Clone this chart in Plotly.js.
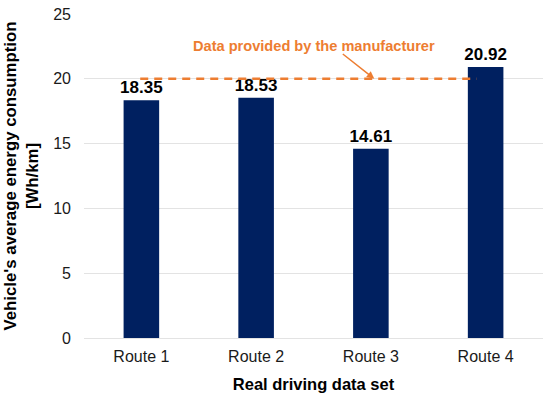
<!DOCTYPE html>
<html>
<head>
<meta charset="utf-8">
<script src="https://cdn.plot.ly/plotly-3.0.1.min.js"></script>
<style>html,body{margin:0;padding:0;background:#fff;}#chart{width:550px;height:405px;}</style>
</head>
<body>
<div id="chart"></div>
<script>
const categories = ["Route 1", "Route 2", "Route 3", "Route 4"];
const consumption = [18.35, 18.53, 14.61, 20.92];
const valueLabels = ["18.35", "18.53", "14.61", "20.92"];
const manufacturerValue = 20;
const manufacturerLabel = "Data provided by the manufacturer";
const yTicks = [0, 5, 10, 15, 20, 25];

const font = "Liberation Sans, Arial, sans-serif";

const trace = {
  type: "bar",
  x: categories,
  y: consumption,
  text: valueLabels,
  textposition: "outside",
  constraintext: "none",
  cliponaxis: false,
  textfont: {family: font, size: 17, color: "#000", weight: "bold"},
  marker: {color: "#002060"},
  hoverinfo: "x+y"
};

const layout = {
  width: 550, height: 405,
  margin: {l: 84, r: 7, t: 14, b: 67},
  paper_bgcolor: "#fff", plot_bgcolor: "#fff",
  bargap: 0.69,
  showlegend: false,
  font: {family: font, size: 16, color: "#000"},
  xaxis: {
    type: "category",
    tickfont: {family: font, size: 16, color: "#1a1a1a"},
    ticks: "",
    ticklabelstandoff: 7,
    showline: false,
    title: {text: "<b>Real driving data set</b>", font: {family: font, size: 16.5, color: "#000"}, standoff: 14}
  },
  yaxis: {
    range: [0, 25],
    tickvals: yTicks,
    ticktext: yTicks.map(String),
    tickfont: {family: font, size: 16, color: "#1a1a1a"},
    ticklabelstandoff: 12,
    gridcolor: "#E3E3E3",
    gridwidth: 1,
    zeroline: true,
    zerolinecolor: "#E3E3E3",
    zerolinewidth: 1,
    ticks: "",
    ticklen: 0,
    title: {text: "<b>Vehicle's average energy consumption<br>[Wh/km]</b>", font: {family: font, size: 16.8, color: "#000"}, standoff: 10}
  },
  shapes: [{
    type: "line", xref: "x", yref: "y",
    x0: -0.01, x1: 2.92, y0: manufacturerValue, y1: manufacturerValue,
    line: {color: "#ED7D31", width: 2.5, dash: "8px,6px"}
  }],
  annotations: [
    {
      xref: "x", yref: "y", x: 1.5, y: manufacturerValue,
      yshift: 33, text: "<b>" + manufacturerLabel + "</b>",
      showarrow: false,
      font: {family: font, size: 14.6, color: "#ED7D31"}
    },
    {
      xref: "x", yref: "y", x: 2.03, y: manufacturerValue,
      text: "", showarrow: true, ax: -33, ay: -26,
      arrowhead: 2, arrowsize: 1, arrowwidth: 1.5, arrowcolor: "#ED7D31"
    }
  ]
};

Plotly.newPlot("chart", [trace], layout, {displayModeBar: false, staticPlot: true});
</script>
</body>
</html>
